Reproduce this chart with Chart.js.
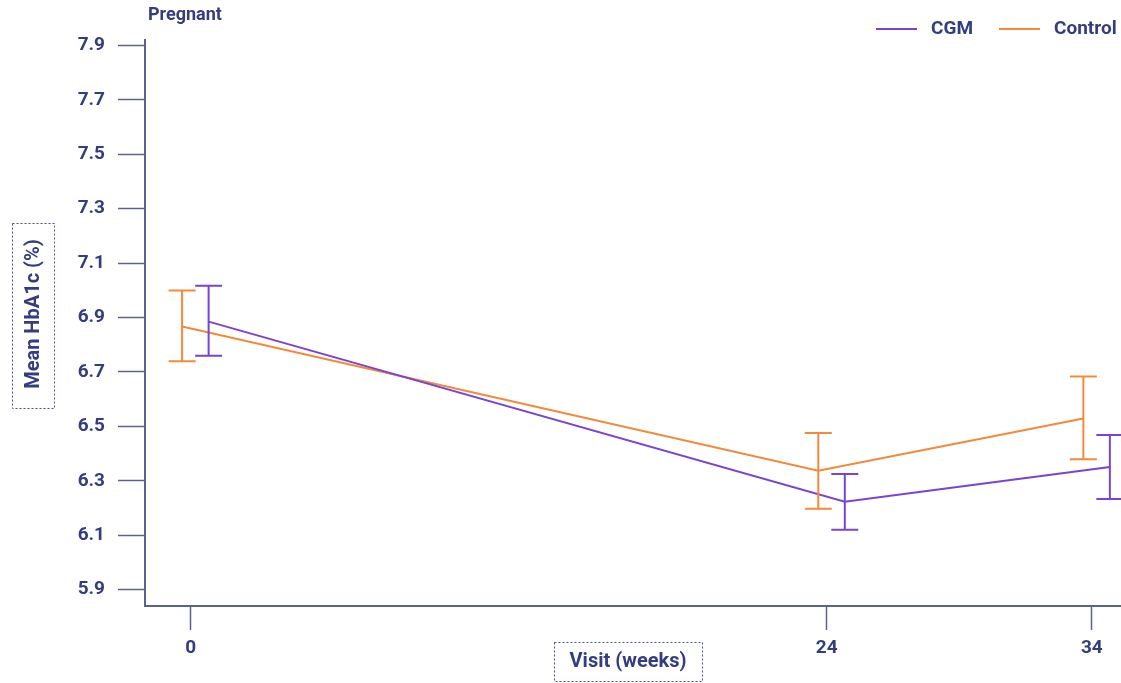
<!DOCTYPE html>
<html>
<head>
<meta charset="utf-8">
<script src="https://cdn.jsdelivr.net/npm/chart.js@4.4.1/dist/chart.umd.min.js"></script>
<style>
  html, body { margin: 0; padding: 0; background: #ffffff; }
  #wrap { width: 1121px; height: 683px; position: relative; }
</style>
</head>
<body>
<div id="wrap"><canvas id="chart" width="1121" height="683"></canvas></div>
<script>
// Visit schedule (weeks) and tick labels
const visitWeeks = [0, 24, 34];
const yTickValues = [5.9, 6.1, 6.3, 6.5, 6.7, 6.9, 7.1, 7.3, 7.5, 7.7, 7.9];

// Mean HbA1c (%) with lower / upper error limits
const cgmMean  = [6.885, 6.223, 6.351];
const cgmLow   = [6.76, 6.12, 6.233];
const cgmHigh  = [7.017, 6.325, 6.468];

const controlMean = [6.867, 6.337, 6.529];
const controlLow  = [6.739, 6.197, 6.379];
const controlHigh = [6.999, 6.476, 6.683];

// Horizontal dodge (weeks) so the two groups' error bars do not overlap
const cgmDodge = 0.68;
const controlDodge = -0.32;

const PURPLE = '#7a43d4';
const ORANGE = '#f5893a';
const INK = '#343e7e';
const AXIS = '#5c6190';
const FONT = 'Roboto, "Liberation Sans", sans-serif';

function points(means, dodge) {
  return visitWeeks.map((w, i) => ({ x: w + dodge, y: means[i] }));
}

// Error bars drawn through the chart's own scales
const errorBars = {
  id: 'errorBars',
  afterDatasetsDraw(chart) {
    const ctx = chart.ctx;
    const yScale = chart.scales.y;
    chart.data.datasets.forEach((ds, di) => {
      const meta = chart.getDatasetMeta(di);
      ctx.save();
      ctx.strokeStyle = ds.borderColor;
      ctx.lineWidth = 2;
      meta.data.forEach((pt, i) => {
        const x = pt.x;
        const yLo = yScale.getPixelForValue(ds.errLow[i]);
        const yHi = yScale.getPixelForValue(ds.errHigh[i]);
        const cap = 13.5;
        ctx.beginPath();
        ctx.moveTo(x, yLo); ctx.lineTo(x, yHi);
        ctx.moveTo(x - cap, yLo); ctx.lineTo(x + cap, yLo);
        ctx.moveTo(x - cap, yHi); ctx.lineTo(x + cap, yHi);
        ctx.stroke();
      });
      ctx.restore();
    });
  }
};

// Panel label, legend and boxed axis titles
const decorations = {
  id: 'decorations',
  afterDraw(chart) {
    const ctx = chart.ctx;
    const area = chart.chartArea;
    ctx.save();
    ctx.fillStyle = INK;
    ctx.textBaseline = 'middle';

    // panel label
    ctx.font = 'bold 18px ' + FONT;
    ctx.textAlign = 'left';
    ctx.fillText('Pregnant', area.left + 3, 15);

    // legend
    const items = [
      { label: 'CGM', color: PURPLE, x: 876 },
      { label: 'Control', color: ORANGE, x: 999 }
    ];
    items.forEach(it => {
      ctx.strokeStyle = it.color;
      ctx.lineWidth = 2;
      ctx.beginPath();
      ctx.moveTo(it.x, 29); ctx.lineTo(it.x + 41, 29);
      ctx.stroke();
      ctx.fillStyle = INK;
      ctx.font = 'bold 19px ' + FONT;
      ctx.fillText(it.label, it.x + 55, 29);
    });

    // dotted boxes
    ctx.strokeStyle = '#4b5184';
    ctx.lineWidth = 1;
    ctx.setLineDash([2, 2]);
    ctx.strokeRect(12.5, 223.5, 42, 185);
    ctx.strokeRect(554.5, 642.5, 148, 39);
    ctx.setLineDash([]);

    // axis titles
    ctx.fillStyle = INK;
    ctx.font = 'bold 20px ' + FONT;
    ctx.textAlign = 'center';
    ctx.fillText('Visit (weeks)', 628, 662);

    ctx.save();
    ctx.translate(34, 314);
    ctx.rotate(-Math.PI / 2);
    ctx.fillText('Mean HbA1c (%)', 0, 0);
    ctx.restore();

    ctx.restore();
  }
};

new Chart(document.getElementById('chart'), {
  type: 'line',
  data: {
    datasets: [
      {
        label: 'CGM',
        data: points(cgmMean, cgmDodge),
        errLow: cgmLow,
        errHigh: cgmHigh,
        borderColor: PURPLE,
        backgroundColor: PURPLE,
        borderWidth: 2,
        pointRadius: 0,
        tension: 0
      },
      {
        label: 'Control',
        data: points(controlMean, controlDodge),
        errLow: controlLow,
        errHigh: controlHigh,
        borderColor: ORANGE,
        backgroundColor: ORANGE,
        borderWidth: 2,
        pointRadius: 0,
        tension: 0
      }
    ]
  },
  options: {
    responsive: false,
    animation: false,
    layout: { padding: { top: 40, left: 0, right: 0, bottom: 0 } },
    plugins: {
      legend: { display: false },
      tooltip: { enabled: false }
    },
    scales: {
      x: {
        type: 'linear',
        min: -1.72,
        max: 35.1,
        afterBuildTicks(scale) {
          scale.ticks = visitWeeks.map(v => ({ value: v }));
        },
        afterFit(scale) { scale.height = 77; },
        border: { display: true, color: AXIS, width: 2 },
        grid: {
          drawOnChartArea: false,
          drawTicks: true,
          tickLength: 24,
          tickWidth: 1.5,
          tickColor: AXIS
        },
        ticks: {
          color: INK,
          font: { family: FONT, size: 19, weight: 'bold' },
          padding: 7,
          maxRotation: 0,
          callback: v => String(v)
        }
      },
      y: {
        type: 'linear',
        min: 5.84,
        max: 7.92,
        afterBuildTicks(scale) {
          scale.ticks = yTickValues.map(v => ({ value: v }));
        },
        afterFit(scale) { scale.width = 145; },
        border: { display: true, color: AXIS, width: 2 },
        grid: {
          drawOnChartArea: false,
          drawTicks: true,
          tickLength: 27,
          tickWidth: 1.5,
          tickColor: AXIS
        },
        ticks: {
          color: INK,
          font: { family: FONT, size: 19, weight: 'bold' },
          padding: 13,
          callback: v => Number(v).toFixed(1)
        }
      }
    }
  },
  plugins: [errorBars, decorations]
});
</script>
</body>
</html>
